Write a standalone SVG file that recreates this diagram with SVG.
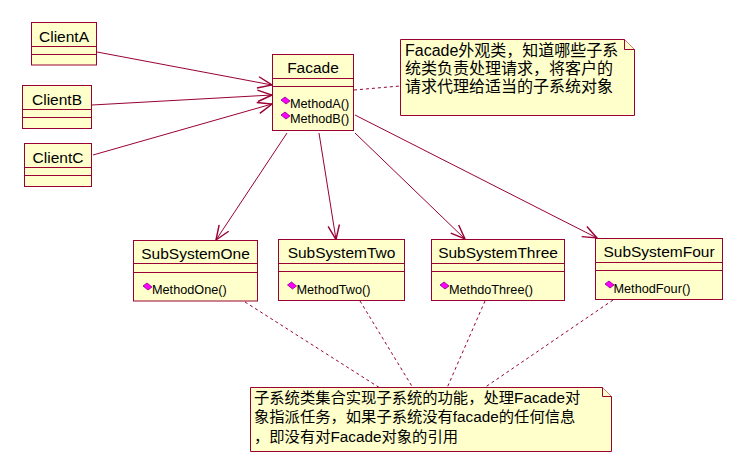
<svg xmlns="http://www.w3.org/2000/svg" width="749" height="469" viewBox="0 0 749 469">
<style>
.box{fill:#FFFFCC;stroke:#990033;stroke-width:1}
.div{stroke:#990033;stroke-width:1}
.name{font-family:"Liberation Sans","Noto Sans CJK SC",sans-serif;font-size:15.5px;fill:#000;text-anchor:middle}
.meth{font-family:"Liberation Sans","Noto Sans CJK SC",sans-serif;font-size:12.7px;fill:#000}
.dia{fill:#FF00FF;stroke:#800080;stroke-width:0.8}
.note{fill:#FFFFCC;stroke:#990033;stroke-width:1}
.nt{font-family:"Liberation Sans","Noto Sans CJK SC",sans-serif;fill:#000}
.assoc{stroke:#990033;stroke-width:1;fill:none}
.dash{stroke:#990033;stroke-width:1;fill:none;stroke-dasharray:3,3}
</style>
<defs>
<marker id="open" markerUnits="userSpaceOnUse" markerWidth="20" markerHeight="20" viewBox="-12 -6 14 12" refX="0" refY="0" orient="auto" overflow="visible">
<path d="M-10,-4 L0,0 L-10,4" fill="none" stroke="#990033" stroke-width="1"/>
</marker>
</defs>
<rect width="749" height="469" fill="#FFFFFF"/>

<g id="connectors">
<line class="assoc" x1="97" y1="52" x2="272" y2="85" marker-end="url(#open)"/>
<line class="assoc" x1="92" y1="105" x2="272" y2="95" marker-end="url(#open)"/>
<line class="assoc" x1="93" y1="155" x2="272" y2="104" marker-end="url(#open)"/>
<line class="assoc" x1="287" y1="133" x2="216" y2="240" marker-end="url(#open)"/>
<line class="assoc" x1="319" y1="133" x2="336" y2="239.5" marker-end="url(#open)"/>
<line class="assoc" x1="355" y1="133" x2="465" y2="239" marker-end="url(#open)"/>
<line class="assoc" x1="355" y1="115" x2="597" y2="238" marker-end="url(#open)"/>
<line class="dash" x1="354" y1="90" x2="400" y2="86"/>
<line class="dash" x1="245" y1="302" x2="380" y2="388"/>
<line class="dash" x1="360" y1="301" x2="413" y2="388"/>
<line class="dash" x1="485" y1="301" x2="447" y2="388"/>
<line class="dash" x1="613" y1="300" x2="484" y2="388"/>
</g>

<g id="ClientA">
<rect class="box" x="31.5" y="22.5" width="65" height="42.5"/>
<line class="div" x1="31.5" y1="46.5" x2="96.5" y2="46.5"/>
<line class="div" x1="31.5" y1="54.5" x2="96.5" y2="54.5"/>
<text class="name" x="64" y="42">ClientA</text>
</g>
<g id="ClientB">
<rect class="box" x="22.5" y="85.5" width="69" height="43"/>
<line class="div" x1="22.5" y1="109.5" x2="91.5" y2="109.5"/>
<line class="div" x1="22.5" y1="117.5" x2="91.5" y2="117.5"/>
<text class="name" x="57" y="105">ClientB</text>
</g>
<g id="ClientC">
<rect class="box" x="24.5" y="143.5" width="67" height="43"/>
<line class="div" x1="24.5" y1="167.5" x2="91.5" y2="167.5"/>
<line class="div" x1="24.5" y1="175.5" x2="91.5" y2="175.5"/>
<text class="name" x="58" y="163">ClientC</text>
</g>

<g id="Facade">
<rect class="box" x="272.5" y="54.5" width="81" height="76"/>
<line class="div" x1="272.5" y1="78.5" x2="353.5" y2="78.5"/>
<line class="div" x1="272.5" y1="86.5" x2="353.5" y2="86.5"/>
<text class="name" x="313" y="73">Facade</text>
<path class="dia" d="M281,100 L285,97 L290,101 L286,104 Z"/>
<text class="meth" x="290" y="108">MethodA()</text>
<path class="dia" d="M281,115 L285,112 L290,116 L286,119 Z"/>
<text class="meth" x="290" y="123">MethodB()</text>
</g>

<g id="SubSystemOne">
<rect class="box" x="133.5" y="240.5" width="124" height="60.5"/>
<line class="div" x1="133.5" y1="263.5" x2="257.5" y2="263.5"/>
<line class="div" x1="133.5" y1="272.5" x2="257.5" y2="272.5"/>
<text class="name" x="195.5" y="259">SubSystemOne</text>
<path class="dia" d="M143,286 L147,283 L152,287 L148,290 Z"/>
<text class="meth" x="152" y="294">MethodOne()</text>
</g>
<g id="SubSystemTwo">
<rect class="box" x="278.5" y="239.5" width="126" height="61"/>
<line class="div" x1="278.5" y1="263.5" x2="404.5" y2="263.5"/>
<line class="div" x1="278.5" y1="271.5" x2="404.5" y2="271.5"/>
<text class="name" x="341.5" y="258">SubSystemTwo</text>
<path class="dia" d="M287.5,285 L291.5,282 L296.5,286 L292.5,289 Z"/>
<text class="meth" x="296.5" y="294">MethodTwo()</text>
</g>
<g id="SubSystemThree">
<rect class="box" x="431.5" y="239.5" width="133" height="61"/>
<line class="div" x1="431.5" y1="263.5" x2="564.5" y2="263.5"/>
<line class="div" x1="431.5" y1="271.5" x2="564.5" y2="271.5"/>
<text class="name" x="498" y="258">SubSystemThree</text>
<path class="dia" d="M440,285 L444,282 L449,286 L445,289 Z"/>
<text class="meth" x="449" y="294">MethdoThree()</text>
</g>
<g id="SubSystemFour">
<rect class="box" x="595.5" y="238.5" width="127" height="61"/>
<line class="div" x1="595.5" y1="262.5" x2="722.5" y2="262.5"/>
<line class="div" x1="595.5" y1="270.5" x2="722.5" y2="270.5"/>
<text class="name" x="659" y="257">SubSystemFour</text>
<path class="dia" d="M605,284 L609,281 L614,285 L610,288 Z"/>
<text class="meth" x="613.5" y="293">MethodFour()</text>
</g>

<g id="NoteFacade">
<path class="note" d="M400.5,39.5 L624.5,39.5 L634.5,49.5 L634.5,115.5 L400.5,115.5 Z"/>
<path class="note" d="M624.5,39.5 L624.5,49.5 L634.5,49.5" fill="none"/>
<text class="nt" font-size="16" x="405" y="55.5">Facade外观类，知道哪些子系</text>
<text class="nt" font-size="16" x="405" y="73.5">统类负责处理请求，将客户的</text>
<text class="nt" font-size="16" x="405" y="91.5">请求代理给适当的子系统对象</text>
</g>

<g id="NoteSubsystems">
<path class="note" d="M250.5,387.5 L602.5,387.5 L611.5,396.5 L611.5,451.5 L250.5,451.5 Z"/>
<path class="note" d="M602.5,387.5 L602.5,396.5 L611.5,396.5" fill="none"/>
<text class="nt" font-size="15.3" x="254" y="403">子系统类集合实现子系统的功能，处理Facade对</text>
<text class="nt" font-size="15.3" x="254" y="422">象指派任务，如果子系统没有facade的任何信息</text>
<text class="nt" font-size="15.3" x="254" y="441.5">，即没有对Facade对象的引用</text>
</g>
</svg>
